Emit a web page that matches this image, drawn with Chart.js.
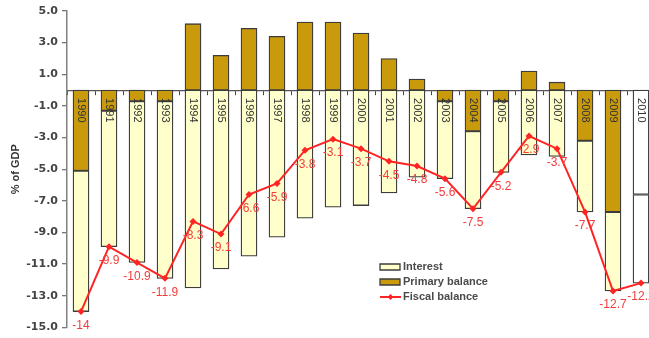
<!DOCTYPE html>
<html>
<head>
<meta charset="utf-8">
<script src="https://cdn.jsdelivr.net/npm/chart.js@4.4.1/dist/chart.umd.min.js"></script>
<style>
  html, body { margin: 0; padding: 0; background: #fff; overflow: hidden; width: 649px; height: 338px; }
  #wrap { position: relative; width: 660px; height: 338px; }
</style>
</head>
<body>
<div id="wrap"><canvas id="c" width="660" height="338"></canvas></div>
<script>
// ---- data ----
const years = ['1990','1991','1992','1993','1994','1995','1996','1997','1998','1999','2000',
               '2001','2002','2003','2004','2005','2006','2007','2008','2009','2010'];
const primaryBalance = [-5.1, -1.3, -0.7, -0.7, 4.2, 2.2, 3.9, 3.4, 4.3, 4.3, 3.6,
                        2.0, 0.7, -0.7, -2.6, -0.7, 1.2, 0.5, -3.2, -7.7, -6.6];
const interest = [-8.9, -8.6, -10.2, -11.2, -12.5, -11.3, -10.5, -9.3, -8.1, -7.4, -7.3,
                  -6.5, -5.5, -4.9, -4.9, -4.5, -4.1, -4.2, -4.5, -5.0, -5.6];
const fiscalBalance = [-14, -9.9, -10.9, -11.9, -8.3, -9.1, -6.6, -5.9, -3.8, -3.1, -3.7,
                       -4.5, -4.8, -5.6, -7.5, -5.2, -2.9, -3.7, -7.7, -12.7, -12.2];
const yTicks = [5, 3, 1, -1, -3, -5, -7, -9, -11, -13, -15];

const PRIMARY_COL = '#C99A0C';
const INTEREST_COL = '#FFFFCC';
const LINE_COL = '#FF2424';
const LABEL_COL = '#F23C3C';
const BORDER_COL = '#3c3c3c';

const primaryColors = years.map(y => y === '2010' ? '#FFFFFF' : PRIMARY_COL);
const interestColors = years.map(y => y === '2010' ? '#FFFFFF' : INTEREST_COL);

const legendItems = [
  {label: 'Interest', kind: 'box', color: INTEREST_COL},
  {label: 'Primary balance', kind: 'box', color: PRIMARY_COL},
  {label: 'Fiscal balance', kind: 'line', color: LINE_COL}
];

const yearLabelPlugin = {
  id: 'yearLabels',
  afterDatasetsDraw(chart) {
    const ctx = chart.ctx;
    const xs = chart.scales.x, ys = chart.scales.y;
    const y0 = ys.getPixelForValue(0) + 8;
    ctx.save();
    ctx.font = '11px "Liberation Sans", Arial, sans-serif';
    ctx.fillStyle = '#333';
    ctx.textAlign = 'left';
    ctx.textBaseline = 'middle';
    years.forEach((yr, i) => {
      const x = xs.getPixelForValue(i);
      ctx.save();
      ctx.translate(x, y0);
      ctx.rotate(Math.PI / 2);
      ctx.fillText(yr, 0, 0);
      ctx.restore();
    });
    ctx.restore();
  }
};

const pointLabelPlugin = {
  id: 'pointLabels',
  afterDatasetsDraw(chart) {
    const ctx = chart.ctx;
    const meta = chart.getDatasetMeta(2);
    ctx.save();
    ctx.font = '12px "Liberation Sans", Arial, sans-serif';
    ctx.fillStyle = LABEL_COL;
    ctx.textAlign = 'center';
    ctx.textBaseline = 'middle';
    meta.data.forEach((pt, i) => {
      ctx.fillText(String(fiscalBalance[i]), pt.x, pt.y + 14);
    });
    ctx.restore();
  }
};

const legendPlugin = {
  id: 'customLegend',
  afterDraw(chart) {
    const ctx = chart.ctx;
    const x0 = 380, yStart = 267, step = 15;
    ctx.save();
    ctx.font = 'bold 11px "Liberation Sans", Arial, sans-serif';
    ctx.textBaseline = 'middle';
    ctx.textAlign = 'left';
    legendItems.forEach((it, i) => {
      const y = yStart + i * step;
      if (it.kind === 'box') {
        ctx.fillStyle = it.color;
        ctx.strokeStyle = BORDER_COL;
        ctx.lineWidth = 1.3;
        ctx.beginPath();
        ctx.rect(x0, y - 3, 20, 6);
        ctx.fill();
        ctx.stroke();
      } else {
        ctx.strokeStyle = it.color;
        ctx.lineWidth = 2;
        ctx.beginPath();
        ctx.moveTo(x0, y);
        ctx.lineTo(x0 + 21, y);
        ctx.stroke();
        ctx.fillStyle = it.color;
        ctx.beginPath();
        ctx.moveTo(x0 + 10.5, y - 3);
        ctx.lineTo(x0 + 13.5, y);
        ctx.lineTo(x0 + 10.5, y + 3);
        ctx.lineTo(x0 + 7.5, y);
        ctx.closePath();
        ctx.fill();
      }
      ctx.fillStyle = '#4a4a4a';
      ctx.fillText(it.label, x0 + 23, y);
    });
    ctx.restore();
  }
};

new Chart(document.getElementById('c'), {
  data: {
    labels: years,
    datasets: [
      {
        type: 'bar', label: 'Primary balance', data: primaryBalance,
        backgroundColor: primaryColors, borderColor: BORDER_COL, borderWidth: 1.3,
        borderSkipped: false, barThickness: 16, order: 2
      },
      {
        type: 'bar', label: 'Interest', data: interest,
        backgroundColor: interestColors, borderColor: BORDER_COL, borderWidth: 1.3,
        borderSkipped: false, barThickness: 16, order: 2
      },
      {
        type: 'line', label: 'Fiscal balance', data: fiscalBalance, stack: 'fiscal',
        borderColor: LINE_COL, backgroundColor: LINE_COL, borderWidth: 2,
        pointStyle: 'rectRot', pointRadius: 3.5, pointHoverRadius: 3.5,
        pointBackgroundColor: LINE_COL, pointBorderColor: LINE_COL, pointBorderWidth: 0,
        tension: 0, fill: false, order: 0
      }
    ]
  },
  options: {
    responsive: false,
    animation: false,
    devicePixelRatio: 1,
    layout: { padding: { left: 0, right: 5, top: 11, bottom: 7 } },
    plugins: { legend: { display: false }, tooltip: { enabled: false } },
    scales: {
      x: {
        stacked: true,
        position: { y: 0 },
        offset: true,
        ticks: { display: false },
        grid: { display: true, drawOnChartArea: false, drawTicks: true, tickLength: 4, offset: true, color: '#444', lineWidth: 1 },
        border: { display: true, color: '#555', width: 1.2 }
      },
      y: {
        stacked: true,
        min: -15, max: 5,
        afterBuildTicks(scale) { scale.ticks = yTicks.map(v => ({ value: v })); },
        afterFit(scale) { scale.width = 67; },
        ticks: {
          padding: 4,
          color: '#444',
          font: { family: '"DejaVu Sans", sans-serif', size: 11, weight: 'bold' },
          callback: v => Number(v).toFixed(1)
        },
        grid: { display: true, drawOnChartArea: false, drawTicks: true, tickLength: 5, color: '#777', lineWidth: 1.3 },
        border: { display: true, color: '#808080', width: 1.5 },
        title: {
          display: true, text: '% of GDP', color: '#333',
          font: { family: '"Liberation Sans", Arial, sans-serif', size: 11, weight: 'bold' },
          padding: { top: 9, bottom: 0 }
        }
      }
    }
  },
  plugins: [yearLabelPlugin, pointLabelPlugin, legendPlugin]
});
</script>
</body>
</html>
